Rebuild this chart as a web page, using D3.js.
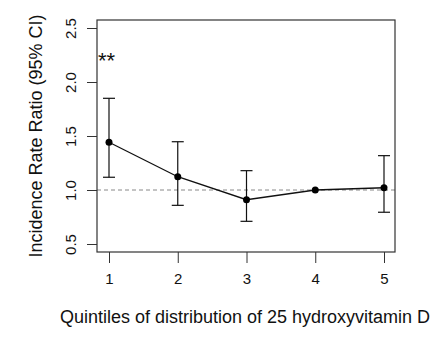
<!DOCTYPE html>
<html><head><meta charset="utf-8">
<script src="https://cdn.jsdelivr.net/npm/d3@7"></script>
<style>body{margin:0;background:#fff}svg{display:block}text{font-family:"Liberation Sans",Arial,sans-serif;fill:#111}</style>
</head><body><svg id="c" width="448" height="338"></svg>
<script>
const quintiles = [1, 2, 3, 4, 5];
const irr = [1.442, 1.123, 0.910, 1.000, 1.021];
const lower = [1.118, 0.858, 0.710, null, 0.794];
const upper = [1.849, 1.447, 1.179, null, 1.318];
const yTicks = [0.5, 1.0, 1.5, 2.0, 2.5];
const xLabel = "Quintiles of distribution of 25 hydroxyvitamin D";
const yLabel = "Incidence Rate Ratio (95% CI)";
const annotation = "**";

const svg = d3.select("#c");
const L = 97, R = 395, T = 20, B = 252;
const x = d3.scaleLinear().domain([1, 5]).range([109, 384]);
const y = d3.scaleLinear().domain([0.5, 2.5]).range([244, 28]);

// reference line
svg.append("line").attr("x1", L).attr("x2", R).attr("y1", y(1)).attr("y2", y(1))
  .attr("stroke", "#888").attr("stroke-width", 1).attr("stroke-dasharray", "4,3");

// axes
const yAx = svg.append("g").attr("transform", `translate(${L},0)`)
  .call(d3.axisLeft(y).tickValues(yTicks).tickFormat(d3.format(".1f")).tickSize(10).tickPadding(4));
yAx.select(".domain").remove();
yAx.selectAll("line").attr("stroke", "#333");
yAx.selectAll("text").attr("font-size", 15).attr("fill", "#111")
  .attr("transform", "rotate(-90)").attr("x", 0).attr("y", -25).attr("dy", "0").attr("text-anchor", "middle")
  .attr("dominant-baseline", "middle").attr("font-family", "Liberation Sans, Arial, sans-serif");

const xAx = svg.append("g").attr("transform", `translate(0,${B})`)
  .call(d3.axisBottom(x).tickValues(quintiles).tickFormat(d3.format("d")).tickSize(11).tickPadding(10));
xAx.select(".domain").remove();
xAx.selectAll("line").attr("stroke", "#333");
xAx.selectAll("text").attr("font-size", 15).attr("fill", "#111").attr("font-family", "Liberation Sans, Arial, sans-serif");

// box
svg.append("rect").attr("x", L).attr("y", T).attr("width", R - L).attr("height", B - T)
  .attr("fill", "none").attr("stroke", "#333").attr("stroke-width", 1.2);

// error bars
const eb = quintiles.map((q, i) => ({q, lo: lower[i], hi: upper[i]})).filter(d => d.lo != null);
const g = svg.append("g").attr("stroke", "#111").attr("stroke-width", 1.2);
eb.forEach(d => {
  g.append("line").attr("x1", x(d.q)).attr("x2", x(d.q)).attr("y1", y(d.lo)).attr("y2", y(d.hi));
  g.append("line").attr("x1", x(d.q) - 6).attr("x2", x(d.q) + 6).attr("y1", y(d.lo)).attr("y2", y(d.lo));
  g.append("line").attr("x1", x(d.q) - 6).attr("x2", x(d.q) + 6).attr("y1", y(d.hi)).attr("y2", y(d.hi));
});

// line + points
const pts = quintiles.map((q, i) => [q, irr[i]]);
svg.append("path").attr("d", d3.line().x(d => x(d[0])).y(d => y(d[1]))(pts))
  .attr("fill", "none").attr("stroke", "#111").attr("stroke-width", 1.3);
svg.selectAll("circle.pt").data(pts).enter().append("circle")
  .attr("cx", d => x(d[0])).attr("cy", d => y(d[1])).attr("r", 3.5).attr("fill", "#000");

// annotation
svg.append("text").attr("x", 98).attr("y", 68).attr("font-size", 22).text(annotation);

// titles
svg.append("text").attr("x", 245).attr("y", 323).attr("text-anchor", "middle").attr("font-size", 18).text(xLabel);
svg.append("text").attr("transform", `translate(42,136) rotate(-90)`).attr("text-anchor", "middle")
  .attr("font-size", 18).text(yLabel);
</script></body></html>
